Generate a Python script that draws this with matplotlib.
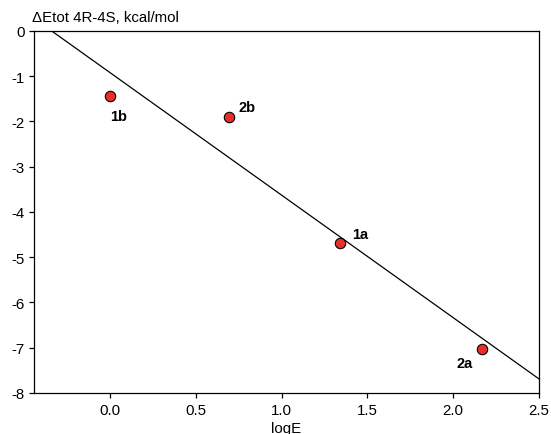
import matplotlib
matplotlib.use("Agg")
import matplotlib.pyplot as plt

plt.rcParams["font.family"] = ["Liberation Sans", "DejaVu Sans"]
plt.rcParams["axes.unicode_minus"] = False

# data
log_e = [0.0, 0.694, 1.338, 2.166]
d_etot = [-1.44, -1.90, -4.68, -7.02]
names = ["1b", "2b", "1a", "2a"]
# label offsets in points (dx, dy)
label_off = [(6, -14), (13, 7), (15, 6), (-12, -10)]

# fitted line endpoints
fit_x = [-0.34, 2.5]
fit_y = [0.0, -7.69]

fig = plt.figure(figsize=(5.51, 4.35), dpi=100)
ax = fig.add_axes([0.0617, 0.0943, 0.9166, 0.8322])

ax.plot(fit_x, fit_y, color="black", lw=0.9)
ax.plot(log_e, d_etot, "o", ms=7.5, mfc="#e8302a", mec="black", mew=0.8)
for x, y, n, (dx, dy) in zip(log_e, d_etot, names, label_off):
    ax.annotate(n, (x, y), xytext=(dx, dy), textcoords="offset points",
                ha="center", va="center", fontsize=10.5, fontweight="bold")

ax.set_xlim(-0.443, 2.5)
ax.set_ylim(-8, 0)
ax.set_xticks([0.0, 0.5, 1.0, 1.5, 2.0, 2.5])
ax.set_xticklabels(["0.0", "0.5", "1.0", "1.5", "2.0", "2.5"])
ax.set_yticks(range(-8, 1))
ax.tick_params(direction="out", length=3.5, width=0.9, labelsize=10.8)
ax.tick_params(axis="x", pad=3.5)
ax.tick_params(axis="y", pad=3)
for s in ax.spines.values():
    s.set_linewidth(0.9)

ax.text(-0.003, 1.02, "\u0394Etot 4R-4S, kcal/mol", transform=ax.transAxes,
        ha="left", va="bottom", fontsize=10.8)
ax.set_xlabel("logE", fontsize=10.8, labelpad=3)

fig.savefig("out.png", dpi=100)
